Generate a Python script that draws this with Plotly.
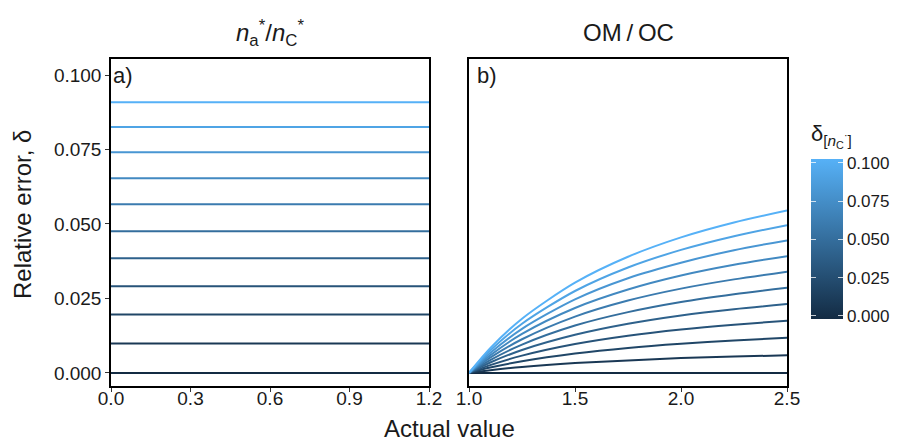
import plotly.graph_objects as go
from plotly.subplots import make_subplots
from plotly.colors import sample_colorscale

# ---- data ----
delta_levels = [0.00, 0.01, 0.02, 0.03, 0.04, 0.05, 0.06, 0.07, 0.08, 0.09, 0.10]
left_x = [0.0, 1.2]
left_values = [0.0000, 0.0099, 0.0196, 0.0291, 0.0385, 0.0476, 0.0566, 0.0654, 0.0741, 0.0826, 0.0909]

right_x = [1.0, 1.1, 1.25, 1.5, 1.75, 2.0, 2.25, 2.5]
right_c0 = [0, 0, 0, 0, 0, 0, 0, 0]
right_c1 = [0, 0.0009, 0.0020, 0.0033, 0.0042, 0.0050, 0.0055, 0.0059]
right_c2 = [0, 0.0018, 0.0039, 0.0065, 0.0084, 0.0098, 0.0109, 0.0118]
right_c3 = [0, 0.0026, 0.0058, 0.0097, 0.0125, 0.0146, 0.0162, 0.0175]
right_c4 = [0, 0.0035, 0.0077, 0.0128, 0.0165, 0.0193, 0.0214, 0.0231]
right_c5 = [0, 0.0043, 0.0095, 0.0159, 0.0204, 0.0238, 0.0264, 0.0286]
right_c6 = [0, 0.0051, 0.0113, 0.0189, 0.0243, 0.0283, 0.0314, 0.0340]
right_c7 = [0, 0.0059, 0.0131, 0.0218, 0.0280, 0.0327, 0.0363, 0.0392]
right_c8 = [0, 0.0067, 0.0148, 0.0247, 0.0318, 0.0370, 0.0412, 0.0445]
right_c9 = [0, 0.0075, 0.0165, 0.0275, 0.0354, 0.0413, 0.0459, 0.0496]
right_c10 = [0, 0.0083, 0.0182, 0.0303, 0.0390, 0.0455, 0.0505, 0.0545]
right_curves = [right_c0, right_c1, right_c2, right_c3, right_c4, right_c5,
                right_c6, right_c7, right_c8, right_c9, right_c10]

y_ticks = [0.0, 0.025, 0.05, 0.075, 0.1]
left_xticks = [0.0, 0.3, 0.6, 0.9, 1.2]
right_xticks = [1.0, 1.5, 2.0, 2.5]

# ---- styling ----
cscale = [[0, "#132B43"], [1, "#56B1F7"]]
FONT = "Liberation Sans, Arial, sans-serif"
TXT = "#1a1a1a"
# page body has an 8px margin, so the figure is laid out 8px smaller
W, H = 890, 437
L, T = 103, 51
R = W - 779
B = H - 378
pw = W - L - R
ph = H - T - B

CB_MIN, CB_MAX = -0.002, 0.1026
CB_LEFT, CB_TOP, CB_BOT = 803, 151, 311  # figure pixels

def col(v):
    return sample_colorscale(cscale, [v / 0.1])[0]

def px_x(px):
    return (px - L) / pw

def px_y(py):
    return (H - B - py) / ph

fig = make_subplots(rows=1, cols=2, shared_yaxes=True, horizontal_spacing=40 / pw)

for lvl, val in zip(delta_levels, left_values):
    fig.add_trace(go.Scatter(x=left_x, y=[val, val], mode="lines",
                             line=dict(color=col(lvl), width=2),
                             showlegend=False, hoverinfo="skip"), row=1, col=1)

for lvl, ys in zip(delta_levels, right_curves):
    fig.add_trace(go.Scatter(x=right_x, y=ys, mode="lines",
                             line=dict(color=col(lvl), width=2, shape="spline", smoothing=0.8),
                             showlegend=False, hoverinfo="skip"), row=1, col=2)

# dummy trace for colourbar
fig.add_trace(go.Scatter(
    x=[None], y=[None], mode="markers", showlegend=False, hoverinfo="skip",
    marker=dict(color=[0], cmin=CB_MIN, cmax=CB_MAX, colorscale=cscale, showscale=True,
                colorbar=dict(x=px_x(CB_LEFT), xanchor="left", xpad=0, ypad=0,
                              y=px_y((CB_TOP + CB_BOT) / 2), yanchor="middle",
                              len=CB_BOT - CB_TOP, lenmode="pixels", thickness=32,
                              outlinewidth=0, ticks="inside", ticklen=5,
                              tickcolor="rgba(255,255,255,0.75)", tickwidth=1,
                              tickvals=y_ticks, ticktext=[f"{v:.3f}" for v in y_ticks],
                              tickfont=dict(family=FONT, size=17, color=TXT)))),
    row=1, col=2)

axis_common = dict(showline=True, linecolor="black", linewidth=1.5, mirror=True,
                   ticks="outside", ticklen=4, tickcolor="#333333", showgrid=False,
                   zeroline=False, tickfont=dict(family=FONT, size=19, color=TXT))

fig.update_xaxes(**axis_common)
fig.update_yaxes(**axis_common)
fig.update_xaxes(ticklabelstandoff=-10)
fig.update_xaxes(range=[0, 1.2], tickvals=left_xticks, ticktext=[f"{v:.1f}" for v in left_xticks], row=1, col=1)
fig.update_xaxes(range=[1.0, 2.5], tickvals=right_xticks, ticktext=[f"{v:.1f}" for v in right_xticks], row=1, col=2)
fig.update_yaxes(range=[-0.0044, 0.1054], tickvals=y_ticks, ticktext=[f"{v:.3f}" for v in y_ticks], row=1, col=1)
fig.update_yaxes(range=[-0.0044, 0.1054], showticklabels=False, ticks="", row=1, col=2)

title_font = dict(family=FONT, size=24, color=TXT)
annotations = [
    dict(text="<i>n</i><sub>a</sub><sup>*</sup>/<i>n</i><sub>C</sub><sup>*</sup>", x=0.5, y=px_y(25),
         xref="x domain", yref="paper", yanchor="middle", showarrow=False, font=title_font),
    dict(text="OM\u2009/\u2009OC", x=0.5, y=px_y(25), xref="x2 domain", yref="paper",
         yanchor="middle", showarrow=False, font=title_font),
    dict(text="a)", x=0, y=1, xref="x domain", yref="y domain", xanchor="left", yanchor="top",
         xshift=0, yshift=-2, showarrow=False, font=dict(family=FONT, size=22, color=TXT)),
    dict(text="b)", x=0, y=1, xref="x2 domain", yref="y2 domain", xanchor="left", yanchor="top",
         xshift=6, yshift=-2, showarrow=False, font=dict(family=FONT, size=22, color=TXT)),
    dict(text="Actual value", x=px_x(442), y=px_y(420), xref="paper", yref="paper",
         xanchor="center", yanchor="middle", showarrow=False, font=title_font),
    dict(text="Relative error, δ", x=px_x(14), y=px_y(207), xref="paper", yref="paper",
         xanchor="center", yanchor="middle", textangle=-90, showarrow=False, font=title_font),
    dict(text="δ<sub>[<i>n</i><sub>C</sub><sup>·</sup>]</sub>", x=px_x(CB_LEFT - 2), y=px_y(128),
         xref="paper", yref="paper", xanchor="left", yanchor="middle", showarrow=False,
         font=dict(family=FONT, size=22, color=TXT)),
]
# white tick marks on the left edge of the colourbar
for v in y_ticks:
    py = CB_BOT - (v - CB_MIN) / (CB_MAX - CB_MIN) * (CB_BOT - CB_TOP)
    annotations.append(dict(text=" ", x=px_x(CB_LEFT), y=px_y(py), xref="paper", yref="paper",
                            xanchor="left", yanchor="middle", showarrow=False,
                            width=5, height=1, borderpad=0, borderwidth=0,
                            bgcolor="rgba(255,255,255,0.75)", font=dict(size=1)))

fig.update_layout(annotations=annotations, width=W, height=H,
                  margin=dict(l=L, r=R, t=T, b=B, autoexpand=False),
                  plot_bgcolor="white", paper_bgcolor="white",
                  font=dict(family=FONT))

fig.write_html("out.html")
